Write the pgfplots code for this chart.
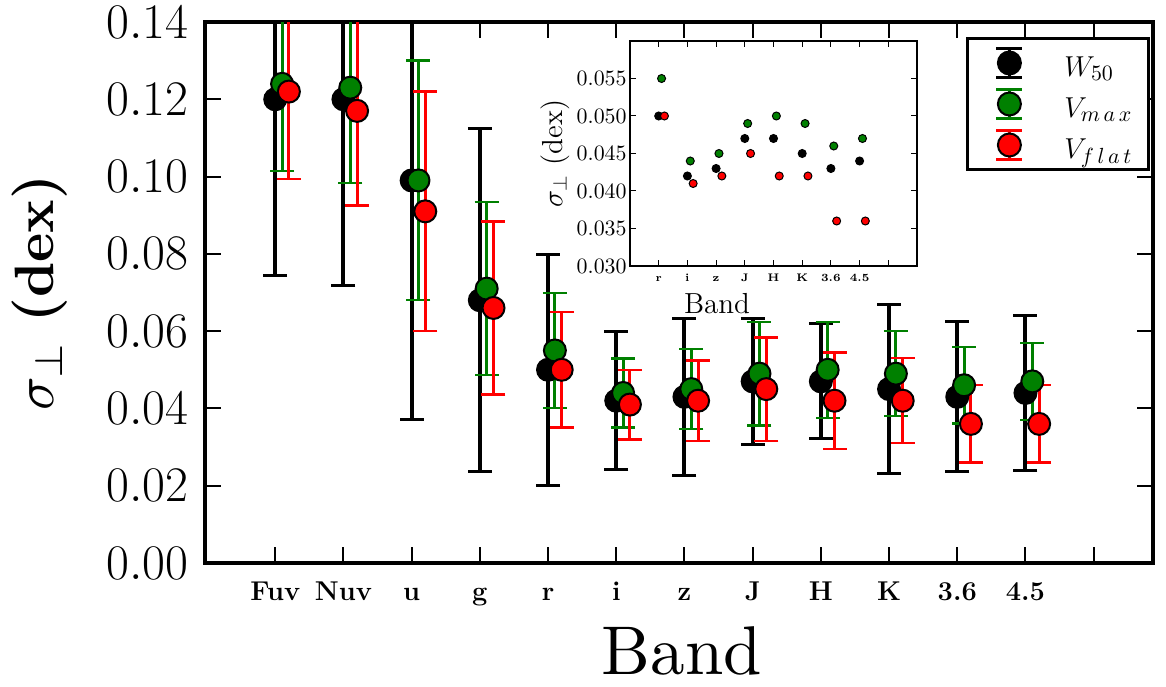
\documentclass[border=0pt]{standalone}
\usepackage{graphicx}
\usepackage{pgfplots}
\pgfplotsset{compat=1.18}
\definecolor{mplgreen}{RGB}{0,128,0}
\definecolor{mplred}{RGB}{255,0,0}

% legend image: error bar with caps and a circle (cell box fixed)
\newcommand{\errlegend}[1]{%
  \path[draw=none, fill=none] (0,-7.75pt) rectangle (40.5pt,12.75pt);
  \draw[#1, line width=1.5pt] (13pt,-4.75pt)--(13pt,9.75pt);
  \draw[#1, line width=1.2pt] (6.5pt,-4.75pt)--(19.5pt,-4.75pt) (6.5pt,9.75pt)--(19.5pt,9.75pt);
  \filldraw[fill=#1, draw=black, line width=1pt] (13pt,2.5pt) circle (5.75pt);}

\begin{document}
\begin{tikzpicture}
\path[use as bounding box] (-102.5pt,-61.5pt) rectangle (480.5pt,281.5pt);

\begin{axis}[
    name=main,
    at={(0,0)}, anchor=south west,
    scale only axis,
    width=474pt, height=270.5pt,
    xmin=-0.03, xmax=13.87,
    ymin=0, ymax=0.14,
    axis line style={line width=2pt},
    tick style={line width=1pt, black},
    major tick length=8pt,
    xtick={1,...,13},
    xticklabels={Fuv,Nuv,u,g,r,i,z,J,H,K,3.6,4.5,{}},
    ytick={0,0.02,0.04,0.06,0.08,0.10,0.12,0.14},
    scaled y ticks=false,
    yticklabel style={/pgf/number format/fixed, /pgf/number format/fixed zerofill, /pgf/number format/precision=2},
    every y tick label/.append style={anchor=east, inner sep=0pt, xshift=-8pt, font=\fontsize{24}{24}\selectfont},
    every x tick label/.append style={anchor=base, inner sep=0pt, yshift=-18.5pt, font=\fontsize{13.6}{14}\selectfont\bfseries},
    xlabel={\scalebox{3.45}{Band}},
    ylabel={\scalebox{2.77}{$\sigma_\perp$ \textbf{(dex)}}},
    every axis x label/.style={at={(axis description cs:0.503,-0.2070)}, anchor=base, inner sep=0pt},
    every axis y label/.style={at={(axis description cs:-0.174,0.5)}, anchor=center, rotate=90, inner sep=0pt},
    legend style={at={(axis description cs:0.9968,0.9723)}, anchor=north east,
        draw=black, line width=1.5pt, inner xsep=8pt, inner ysep=2pt,
        row sep=0pt, column sep=0pt,
        font=\fontsize{15}{16}\selectfont,
        nodes={inner sep=0pt}},
    legend cell align=left,
    error bars/y dir=both, error bars/y explicit,
]
\addplot[only marks, mark=*, mark size=5.5pt,
    mark options={fill=black, draw=black, line width=1pt},
    error bars/error bar style={line width=2pt, black},
    error bars/error mark options={black, line width=1.5pt, mark size=6pt, rotate=90},
    legend image code/.code={\errlegend{black}}]
coordinates {
 (1,0.120) +- (0,0.0455)
 (2,0.120) +- (0,0.0483)
 (3,0.099) +- (0,0.0618)
 (4,0.068) +- (0,0.0444)
 (5,0.050) +- (0,0.0299)
 (6,0.042) +- (0,0.0179)
 (7,0.043) +- (0,0.0204)
 (8,0.047) +- (0,0.0164)
 (9,0.047) +- (0,0.0149)
 (10,0.045) +- (0,0.0219)
 (11,0.043) +- (0,0.0194)
 (12,0.044) +- (0,0.0200)
};
\addlegendentry{$W_{50}$}

\addplot[only marks, mark=*, mark size=5.5pt,
    mark options={fill=mplgreen, draw=black, line width=1pt},
    error bars/error bar style={line width=1.5pt, mplgreen},
    error bars/error mark options={mplgreen, line width=1.2pt, mark size=6pt, rotate=90},
    legend image code/.code={\errlegend{mplgreen}}]
coordinates {
 (1.1,0.124) +- (0,0.0226)
 (2.1,0.123) +- (0,0.0246)
 (3.1,0.099) +- (0,0.0310)
 (4.1,0.071) +- (0,0.0224)
 (5.1,0.055) +- (0,0.0149)
 (6.1,0.044) +- (0,0.0089)
 (7.1,0.045) +- (0,0.0104)
 (8.1,0.049) +- (0,0.0134)
 (9.1,0.050) +- (0,0.0124)
 (10.1,0.049) +- (0,0.0110)
 (11.1,0.046) +- (0,0.0099)
 (12.1,0.047) +- (0,0.0100)
};
\addlegendentry{$V_{m\,a\,x}$}

\addplot[only marks, mark=*, mark size=5.5pt,
    mark options={fill=mplred, draw=black, line width=1pt},
    error bars/error bar style={line width=1.5pt, mplred},
    error bars/error mark options={mplred, line width=1.2pt, mark size=6pt, rotate=90},
    legend image code/.code={\errlegend{mplred}}]
coordinates {
 (1.2,0.122) +- (0,0.0226)
 (2.2,0.117) +- (0,0.0245)
 (3.2,0.091) +- (0,0.0310)
 (4.2,0.066) +- (0,0.0224)
 (5.2,0.050) +- (0,0.0149)
 (6.2,0.041) +- (0,0.0090)
 (7.2,0.042) +- (0,0.0104)
 (8.2,0.045) +- (0,0.0134)
 (9.2,0.042) +- (0,0.0125)
 (10.2,0.042) +- (0,0.0110)
 (11.2,0.036) +- (0,0.0100)
 (12.2,0.036) +- (0,0.0100)
};
\addlegendentry{$V_{f\,l\,a\,t}$}
\end{axis}

% inset
\begin{axis}[
    at={(212.5pt,148.5pt)}, anchor=south west,
    scale only axis,
    width=143.5pt, height=112.5pt,
    axis background/.style={fill=white},
    xmin=4, xmax=14,
    ymin=0.030, ymax=0.060,
    axis line style={line width=0.8pt},
    tick style={line width=0.5pt, black},
    major tick length=3pt,
    xtick={5,...,13},
    xticklabels={r,i,z,J,H,K,3.6,4.5,{}},
    ytick={0.030,0.035,0.040,0.045,0.050,0.055},
    scaled y ticks=false,
    yticklabel style={/pgf/number format/fixed, /pgf/number format/fixed zerofill, /pgf/number format/precision=3},
    every y tick label/.append style={anchor=east, inner sep=0pt, xshift=-1.5pt, font=\fontsize{11}{11}\selectfont},
    every x tick label/.append style={anchor=base, inner sep=0pt, yshift=-8pt, font=\fontsize{5.5}{6}\selectfont\bfseries},
    xlabel={Band},
    ylabel={$\sigma_\perp$ (dex)},
    every axis x label/.style={at={(axis description cs:0.303,-0.209)}, anchor=base, inner sep=0pt, font=\fontsize{14.5}{15}\selectfont},
    every axis y label/.style={at={(axis description cs:-0.261,0.5)}, anchor=center, rotate=90, inner sep=0pt, font=\fontsize{14.5}{15}\selectfont},
]
\addplot[only marks, mark=*, mark size=2pt, mark options={fill=black, draw=black, line width=0.5pt}]
coordinates {(5,0.050) (6,0.042) (7,0.043) (8,0.047) (9,0.047) (10,0.045) (11,0.043) (12,0.044)};
\addplot[only marks, mark=*, mark size=2pt, mark options={fill=mplgreen, draw=black, line width=0.5pt}]
coordinates {(5.1,0.055) (6.1,0.044) (7.1,0.045) (8.1,0.049) (9.1,0.050) (10.1,0.049) (11.1,0.046) (12.1,0.047)};
\addplot[only marks, mark=*, mark size=2pt, mark options={fill=mplred, draw=black, line width=0.5pt}]
coordinates {(5.2,0.050) (6.2,0.041) (7.2,0.042) (8.2,0.045) (9.2,0.042) (10.2,0.042) (11.2,0.036) (12.2,0.036)};
\end{axis}
\end{tikzpicture}
\end{document}
